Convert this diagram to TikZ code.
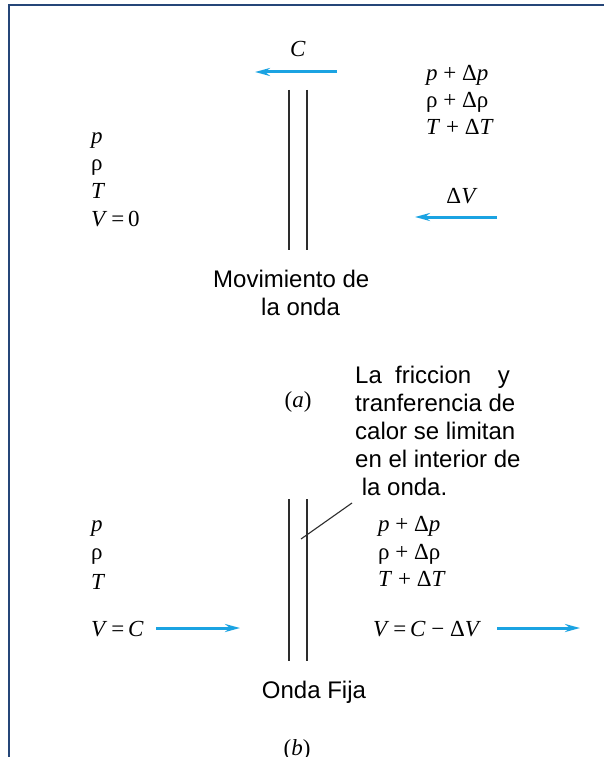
\documentclass[tikz,border=0pt]{standalone}
\usepackage{fontspec}
\setmainfont{Liberation Sans}
\newfontfamily\eqfont{Liberation Serif}
\usetikzlibrary{arrows.meta}
\definecolor{framecol}{RGB}{37,70,120}
\definecolor{flowcol}{RGB}{27,163,226}
\definecolor{wavecol}{RGB}{45,45,45}
\tikzset{
  flow/.style={color=flowcol,line width=3pt,-{Stealth[length=15pt,width=8pt,inset=5pt]}},
  wave/.style={color=wavecol,line width=1.5pt},
  lbl/.style={font=\fontsize{24}{28}\selectfont,inner sep=0pt},
  sym/.style={font=\eqfont\fontsize{23}{28}\selectfont,inner sep=0pt,anchor=base west},
}

\begin{document}
\begin{tikzpicture}[scale=1.000000,x=1pt,y=-1pt]
\useasboundingbox (0.000000,0.000000) rectangle (604.000000,757.000000);
\fill[white] (0.000000,0.000000) rectangle (604.000000,757.000000);
% Drawing frame
\draw[color=framecol,line width=2.5pt] (9.000000,757.000000) -- (9.000000,5.000000) -- (604.000000,5.000000);
% Part (a): wave moving to the left
\node[sym,anchor=center] (cA) at (298.000000,49.000000) {\textit{C}};
\coordinate (cAtail) at (337.000000,72.000000);
\coordinate (cAhead) at (255.000000,72.000000);
\draw[flow] (cAtail) -- (cAhead);
\coordinate (frontAlt) at (289.000000,90.000000);
\coordinate (frontAlb) at (289.000000,250.000000);
\coordinate (frontArt) at (307.000000,90.000000);
\coordinate (frontArb) at (307.000000,250.000000);
\draw[wave] (frontAlt) -- (frontAlb);
\draw[wave] (frontArt) -- (frontArb);
% still gas ahead of the wave
\node[sym] (pA) at (91.000000,143.000000) {\textit{p}};
\node[sym] (rhoA) at (91.000000,170.000000) {ρ};
\node[sym] (tA) at (91.000000,198.000000) {\textit{T}};
\node[sym] (vA) at (91.000000,226.000000) {\textit{V}\,=\,0};
% gas behind the wave
\node[sym] (dpA) at (426.000000,81.000000) {\textit{p} + Δ\textit{p}};
\node[sym] (drhoA) at (426.000000,108.000000) {ρ + Δρ};
\node[sym] (dtA) at (426.000000,135.000000) {\textit{T} + Δ\textit{T}};
\node[sym,anchor=center] (dvA) at (462.000000,196.000000) {Δ\textit{V}};
\coordinate (dvAtail) at (497.000000,217.000000);
\coordinate (dvAhead) at (415.000000,217.000000);
\draw[flow] (dvAtail) -- (dvAhead);
\node[lbl,align=left,anchor=north west] (moveA) at (213.000000,270.000000) {Movimiento de\\\hspace*{48pt}la onda};
\node[sym,anchor=center] (capA) at (298.000000,402.000000) {(\textit{a})};
% Part (b): wave held fixed
\node[lbl,align=left,anchor=north west] (noteB) at (355.000000,366.000000) {La\ \ friccion\ \ \ \ y\\tranferencia de\\calor se limitan\\en el interior de\\\ la onda.};
\coordinate (noteBend) at (352.000000,503.000000);
\coordinate (noteBtip) at (301.000000,539.000000);
\draw[color=wavecol,line width=1.1pt] (noteBend) -- (noteBtip);
\coordinate (frontBlt) at (289.000000,499.000000);
\coordinate (frontBlb) at (289.000000,661.000000);
\coordinate (frontBrt) at (307.000000,499.000000);
\coordinate (frontBrb) at (307.000000,661.000000);
\draw[wave] (frontBlt) -- (frontBlb);
\draw[wave] (frontBrt) -- (frontBrb);
\node[sym] (pB) at (91.000000,531.000000) {\textit{p}};
\node[sym] (rhoB) at (91.000000,559.000000) {ρ};
\node[sym] (tB) at (91.000000,589.000000) {\textit{T}};
\node[sym] (vB) at (91.000000,636.000000) {\textit{V}\,=\,\textit{C}};
\coordinate (vBtail) at (156.000000,628.000000);
\coordinate (vBhead) at (240.000000,628.000000);
\draw[flow] (vBtail) -- (vBhead);
\node[sym] (dpB) at (378.000000,531.000000) {\textit{p} + Δ\textit{p}};
\node[sym] (drhoB) at (378.000000,559.000000) {ρ + Δρ};
\node[sym] (dtB) at (378.000000,586.000000) {\textit{T} + Δ\textit{T}};
\node[sym] (dvB) at (373.000000,636.000000) {\textit{V}\,=\,\textit{C} − Δ\textit{V}};
\coordinate (dvBtail) at (497.000000,628.000000);
\coordinate (dvBhead) at (580.000000,628.000000);
\draw[flow] (dvBtail) -- (dvBhead);
\node[lbl,anchor=center] (fixB) at (314.000000,692.000000) {Onda Fija};
\node[sym,anchor=center] (capB) at (297.000000,750.000000) {(\textit{b})};
% Done
\end{tikzpicture}
\end{document}
